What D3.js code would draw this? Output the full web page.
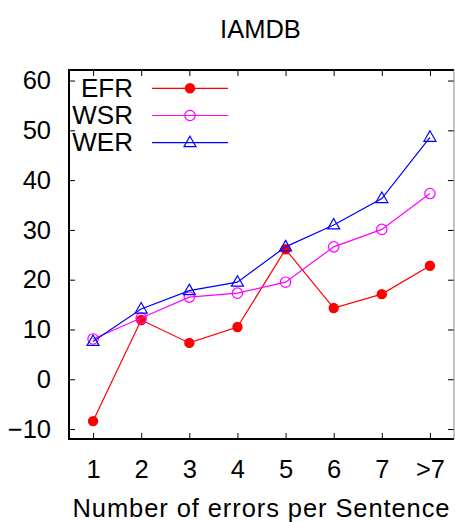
<!DOCTYPE html>
<html>
<head>
<meta charset="utf-8">
<script src="https://cdn.jsdelivr.net/npm/d3@7"></script>
<style>
  body { margin: 0; background: #fff; }
  text { font-family: "Liberation Sans", Arial, sans-serif; fill: #000; }
</style>
</head>
<body>
<svg id="chart"></svg>
<script>
// ------------------------------------------------------------- data
const categories = ["1", "2", "3", "4", "5", "6", "7", ">7"];
const efr = [-8.4, 11.9, 7.3, 10.5, 26.1, 14.3, 17.1, 22.8];
const wsr = [8.1, 12.3, 16.5, 17.3, 19.5, 26.6, 30.1, 37.3];
const wer = [7.6, 14.1, 17.8, 19.5, 26.6, 31.0, 36.3, 48.6];
const yTicks = [-10, 0, 10, 20, 30, 40, 50, 60];

// ------------------------------------------------------------- setup
const width = 455;
const height = 522;
const plotLeft = 69, plotRight = 454, plotTop = 70, plotBottom = 439;

const svg = d3.select('#chart').attr('width', width).attr('height', height);

const x = d3.scaleLinear().domain([0.5, categories.length + 0.5]).range([plotLeft, plotRight]);
const y = d3.scaleLinear().domain([-12, 62]).range([plotBottom, plotTop + 0.6]);

const series = [
  { name: 'EFR', values: efr, color: '#ff0000', marker: 'dot' },
  { name: 'WSR', values: wsr, color: '#ff00ff', marker: 'circle' },
  { name: 'WER', values: wer, color: '#0000ff', marker: 'triangle' }
];

drawAxes();
drawSeries();
drawLegend();
drawLabels();

// ------------------------------------------------------------- axes
function drawAxes() {
  const xVals = categories.map((c, i) => i + 1);

  svg.append('g')
    .attr('transform', `translate(0,${plotBottom})`)
    .call(d3.axisBottom(x).tickValues(xVals).tickSize(-6).tickPadding(21)
      .tickFormat((d, i) => categories[i]));

  svg.append('g')
    .attr('transform', `translate(${plotLeft},0)`)
    .call(d3.axisLeft(y).tickValues(yTicks).tickSize(-6).tickPadding(18));

  svg.append('g')
    .attr('transform', `translate(0,${plotTop})`)
    .call(d3.axisTop(x).tickValues(xVals).tickSize(-6).tickFormat(''));

  svg.append('g')
    .attr('transform', `translate(${plotRight},0)`)
    .call(d3.axisRight(y).tickValues(yTicks).tickSize(-6).tickFormat(''));

  svg.selectAll('.domain').remove();
  svg.selectAll('.tick line').attr('stroke', '#000').attr('stroke-width', 1);
  svg.selectAll('.tick text')
    .style('font-size', '25.5px')
    .style('font-family', '"Liberation Sans", Arial, sans-serif');

  // frame: right edge sits on the picture border, drawn thinner
  const frame = svg.append('g').attr('stroke', '#000').attr('stroke-width', 2);
  frame.append('path')
    .attr('d', `M${plotRight},${plotTop}H${plotLeft}V${plotBottom}H${plotRight}`)
    .attr('fill', 'none');
  frame.append('line')
    .attr('x1', plotRight).attr('x2', plotRight)
    .attr('y1', plotTop).attr('y2', plotBottom)
    .attr('stroke', '#888').attr('stroke-width', 1);
}

// ------------------------------------------------------------- markers
function drawMarker(g, type, color) {
  if (type === 'dot') {
    g.append('circle').attr('r', 5.2).attr('fill', color);
  } else if (type === 'circle') {
    g.append('circle').attr('r', 5.2).attr('fill', 'none')
      .attr('stroke', color).attr('stroke-width', 1.2);
  } else {
    g.append('path').attr('d', 'M0,-6.5L6,4L-6,4Z').attr('fill', 'none')
      .attr('stroke', color).attr('stroke-width', 1.2);
  }
}

function drawSeries() {
  const line = d3.line()
    .x((d, i) => x(i + 1))
    .y(d => y(d));

  series.forEach(s => {
    const g = svg.append('g');
    g.append('path')
      .datum(s.values)
      .attr('d', line)
      .attr('fill', 'none')
      .attr('stroke', s.color)
      .attr('stroke-width', 1.2);

    s.values.forEach((v, i) => {
      const m = g.append('g').attr('transform', `translate(${x(i + 1)},${y(v)})`);
      drawMarker(m, s.marker, s.color);
    });
  });
}

// ------------------------------------------------------------- legend
function drawLegend() {
  series.forEach((s, i) => {
    const ly = 88.3 + i * 27.2;
    const g = svg.append('g');
    g.append('text')
      .attr('x', 133).attr('y', ly + 8.5)
      .attr('text-anchor', 'end')
      .style('font-size', '26px')
      .text(s.name);
    g.append('line')
      .attr('x1', 152).attr('x2', 228)
      .attr('y1', ly).attr('y2', ly)
      .attr('stroke', s.color).attr('stroke-width', 1.2);
    const m = g.append('g').attr('transform', `translate(190,${ly})`);
    drawMarker(m, s.marker, s.color);
  });
}

// ------------------------------------------------------------- titles
function drawLabels() {
  svg.append('text')
    .attr('x', 260.5).attr('y', 38)
    .attr('text-anchor', 'middle')
    .style('font-size', '25.5px')
    .text('IAMDB');

  svg.append('text')
    .attr('x', 261).attr('y', 517)
    .attr('text-anchor', 'middle')
    .style('font-size', '25.5px')
    .attr('textLength', 377)
    .attr('lengthAdjust', 'spacing')
    .text('Number of errors per Sentence');
}
</script>
</body>
</html>
